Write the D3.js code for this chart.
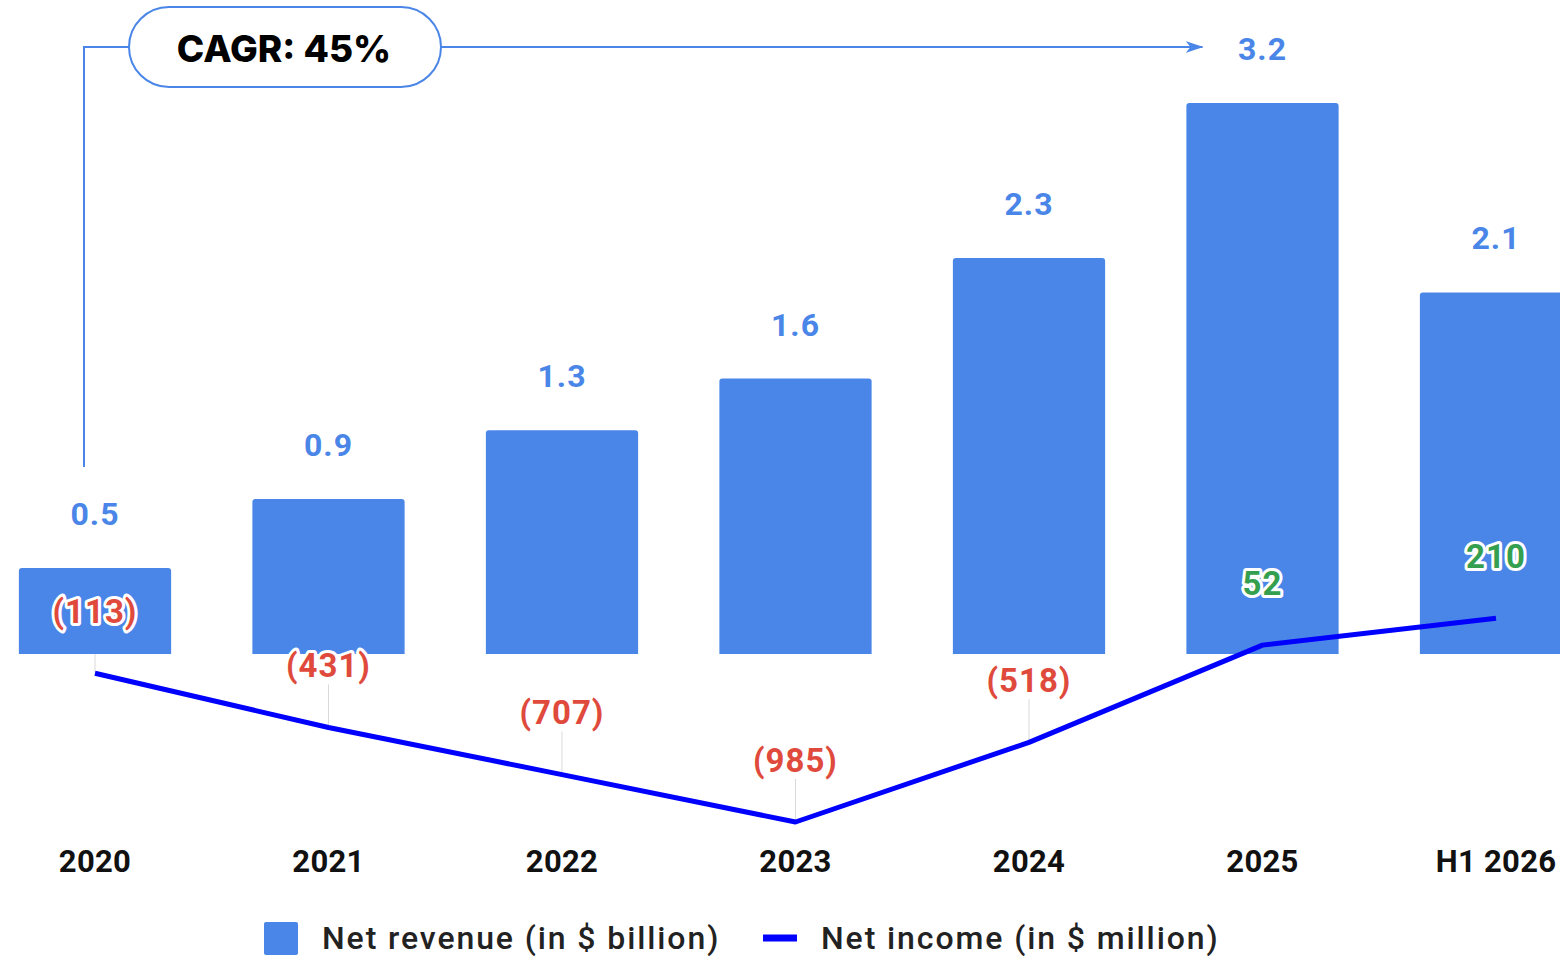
<!DOCTYPE html>
<html>
<head>
<meta charset="utf-8">
<script src="https://cdn.jsdelivr.net/npm/d3@7"></script>
<style>
  html, body { margin: 0; padding: 0; background: #fff; overflow: hidden; }
  svg { display: block; }
</style>
</head>
<body>
<svg id="chart" width="1560" height="957"></svg>
<script>
// Years shown on the category axis
const categories = ["2020", "2021", "2022", "2023", "2024", "2025", "H1 2026"];
// Net revenue, $ billion (bars)
const revenue = [0.5, 0.9, 1.3, 1.6, 2.3, 3.2, 2.1];
// Net income, $ million (line)
const netIncome = [-113, -431, -707, -985, -518, 52, 210];
// Legend entries
const legendLabels = ["Net revenue (in $ billion)", "Net income (in $ million)"];
const cagrLabel = "CAGR: 45%";

const W = 1560, H = 957;
const BAR = "#4a86e8", LINE = "#0000ff", RED = "#e04a3c", GREEN = "#34a04f";
const FONT = "Roboto, 'Noto Sans', sans-serif";

const svg = d3.select("#chart");

const x = d3.scalePoint().domain(categories).range([95, 1496]);
const barW = x.step() * 0.652;
const baseY = 654;
const y = d3.scaleLinear().domain([0, 3.2]).range([baseY, 103]);
const yInc = d3.scaleLinear().domain([0, -985]).range([baseY, 822]);

const rows = categories.map((c, i) => ({ c, rev: revenue[i], inc: netIncome[i] }));

// Leader lines from the income labels down to the line vertices (behind bars)
const labelOffset = 62;
svg.append("g").selectAll("line").data(rows).join("line")
  .attr("x1", d => x(d.c)).attr("x2", d => x(d.c))
  .attr("y1", d => yInc(d.inc) - labelOffset + 19)
  .attr("y2", d => yInc(d.inc))
  .attr("stroke", "#d9d9d9").attr("stroke-width", 1);

// Revenue bars with slightly rounded top corners
const r = 3;
svg.append("g").selectAll("path").data(rows).join("path")
  .attr("fill", BAR)
  .attr("d", d => {
    const x0 = x(d.c) - barW / 2, x1 = x(d.c) + barW / 2, t = y(d.rev), b = y(0);
    return `M${x0},${b}V${t + r}Q${x0},${t} ${x0 + r},${t}H${x1 - r}Q${x1},${t} ${x1},${t + r}V${b}Z`;
  });

// Revenue value labels
svg.append("g").selectAll("text").data(rows).join("text")
  .attr("x", d => x(d.c)).attr("y", d => y(d.rev) - 54)
  .attr("text-anchor", "middle").attr("dominant-baseline", "central")
  .attr("font-family", FONT).attr("font-weight", 700).attr("font-size", 32)
  .attr("letter-spacing", 1)
  .attr("fill", BAR)
  .text(d => d.rev.toFixed(1));

// Net income line
svg.append("path").datum(rows)
  .attr("fill", "none").attr("stroke", LINE).attr("stroke-width", 5)
  .attr("stroke-linejoin", "round")
  .attr("d", d3.line().x(d => x(d.c)).y(d => yInc(d.inc)));

// Net income labels with white halo
const fmt = v => v < 0 ? `(${Math.abs(v)})` : `${v}`;
svg.append("g").selectAll("text").data(rows).join("text")
  .attr("x", d => x(d.c)).attr("y", d => yInc(d.inc) - labelOffset)
  .attr("text-anchor", "middle").attr("dominant-baseline", "central")
  .attr("font-family", FONT).attr("font-weight", 700).attr("font-size", 33)
  .attr("letter-spacing", 1)
  .attr("fill", d => d.inc < 0 ? RED : GREEN)
  .attr("stroke", "#fff").attr("stroke-width", 6).attr("stroke-linejoin", "round")
  .attr("paint-order", "stroke")
  .text(d => fmt(d.inc));

// Category axis labels
svg.append("g").selectAll("text").data(categories).join("text")
  .attr("x", d => x(d)).attr("y", 861)
  .attr("text-anchor", "middle").attr("dominant-baseline", "central")
  .attr("font-family", FONT).attr("font-weight", 700).attr("font-size", 31)
  .attr("letter-spacing", 0.3)
  .attr("fill", "#111")
  .text(d => d);

// CAGR annotation: bracket from the first bar up to a pill, then an arrow to the 2025 label
const ANN = "#4a86e8";
svg.append("defs").append("marker")
  .attr("id", "arrow").attr("viewBox", "0 0 18 12").attr("refX", 17).attr("refY", 6)
  .attr("markerWidth", 18).attr("markerHeight", 12).attr("markerUnits", "userSpaceOnUse")
  .attr("orient", "auto")
  .append("path").attr("d", "M0,0L18,6L0,12L5,6Z").attr("fill", ANN);

const pill = { x: 129, y: 7, w: 312, h: 80 };
const midY = pill.y + pill.h / 2;
const leftX = x(categories[0]) - 11;
svg.append("path")
  .attr("d", `M${leftX},${y(revenue[0]) - 101}V${midY}H${pill.x}`)
  .attr("fill", "none").attr("stroke", ANN).attr("stroke-width", 2);
svg.append("line")
  .attr("x1", pill.x + pill.w).attr("x2", x(categories[5]) - 60)
  .attr("y1", midY).attr("y2", midY)
  .attr("stroke", ANN).attr("stroke-width", 2).attr("marker-end", "url(#arrow)");
svg.append("rect")
  .attr("x", pill.x).attr("y", pill.y).attr("width", pill.w).attr("height", pill.h)
  .attr("rx", pill.h / 2).attr("fill", "#fff").attr("stroke", ANN).attr("stroke-width", 2);
svg.append("text")
  .attr("x", pill.x + pill.w / 2 - 1).attr("y", midY + 1)
  .attr("text-anchor", "middle").attr("dominant-baseline", "central")
  .attr("font-family", "Inter, 'Open Sans', sans-serif").attr("font-weight", 800).attr("font-size", 37)
  .attr("fill", "#000")
  .text(cagrLabel);

// Legend
const lg = svg.append("g")
  .attr("font-family", FONT).attr("font-weight", 500).attr("font-size", 32)
  .attr("letter-spacing", 1.9).attr("fill", "#222");
lg.append("rect").attr("x", 264).attr("y", 922).attr("width", 34).attr("height", 33).attr("rx", 2).attr("fill", BAR);
lg.append("text").attr("x", 322).attr("y", 938).attr("dominant-baseline", "central")
  .text(legendLabels[0]);
lg.append("line").attr("x1", 763).attr("x2", 797).attr("y1", 938).attr("y2", 938)
  .attr("stroke", LINE).attr("stroke-width", 7);
lg.append("text").attr("x", 821).attr("y", 938).attr("dominant-baseline", "central")
  .text(legendLabels[1]);
</script>
</body>
</html>
